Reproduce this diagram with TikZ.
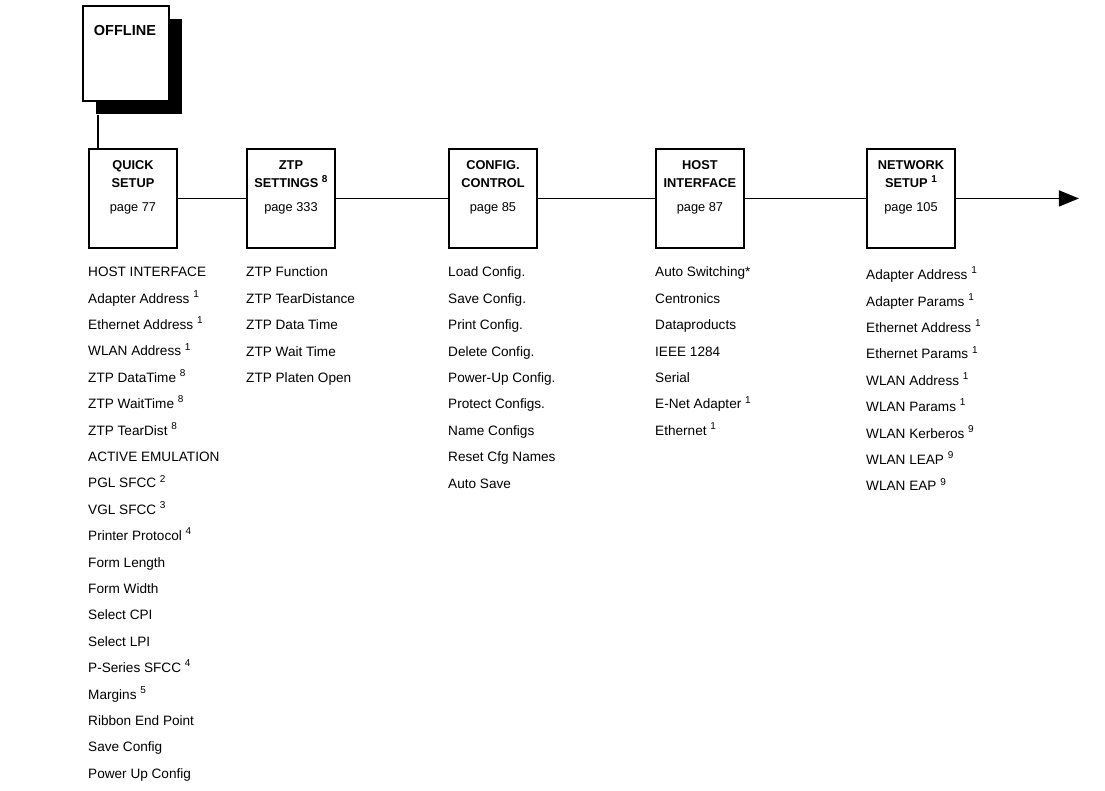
\documentclass[tikz,border=0pt]{standalone}
\usepackage{fontspec}
\setmainfont{Liberation Sans}
\usetikzlibrary{positioning,calc,arrows.meta,shadows}
\tikzset{MENU/.style={rectangle,draw,line width=1.9pt,minimum width=88pt,minimum height=99pt,anchor=north west,fill=white}}
\tikzset{TITLE/.style={align=center,anchor=north,inner sep=0pt,font=\fontsize{12.8}{18.5}\selectfont}}
\tikzset{ITEMS/.style={align=left,anchor=north west,inner sep=0pt,font=\fontsize{13.6}{26.4}\selectfont}}
\tikzset{LINK/.style={line width=1.6pt}}
\tikzset{ARROW/.style={line width=1.6pt,-{Triangle[length=20pt,width=16pt]}}}
\newcommand{\fnote}[1]{ \raisebox{0.42em}{\fontsize{10}{10}\selectfont #1}}

\begin{document}
\begin{tikzpicture}[x=1pt,y=-1pt]
\useasboundingbox (0,0) rectangle (1105,790);

% top of the menu
\node[MENU, minimum width=86pt, minimum height=95pt, drop shadow={shadow xshift=13pt,shadow yshift=-13pt,fill=black,opacity=1}] (n_offline) at (82,5) {};
\node[TITLE, font=\fontsize{14.5}{16}\selectfont] (t_offline) at ($(n_offline.north)+(-1,20)$) {\textbf{OFFLINE}};

% the row of submenus
\node[MENU] (n_quick) at (88,148) {};
\node[MENU] (n_ztp) at (246,148) {};
\node[MENU] (n_config) at (448,148) {};
\node[MENU] (n_host) at (655,148) {};
\node[MENU] (n_network) at (866,148) {};

\node[TITLE] (t_quick) at ($(n_quick.north)+(0,12)$) {\textbf{QUICK}\\\textbf{SETUP}\\[5pt]page 77};
\node[TITLE] (t_ztp) at ($(n_ztp.north)+(0,12)$) {\textbf{ZTP}\\\textbf{SETTINGS\fnote{8}}\\[5pt]page 333};
\node[TITLE] (t_config) at ($(n_config.north)+(0,12)$) {\textbf{CONFIG.}\\\textbf{CONTROL}\\[5pt]page 85};
\node[TITLE] (t_host) at ($(n_host.north)+(0,12)$) {\textbf{HOST}\\\textbf{INTERFACE}\\[5pt]page 87};
\node[TITLE] (t_network) at ($(n_network.north)+(0,12)$) {\textbf{NETWORK}\\\textbf{SETUP\fnote{1}}\\[5pt]page 105};

\coordinate (c_drop) at ($(n_offline.south west)+(16,13)$);
\draw[LINK] (c_drop) -- (c_drop|-n_quick.north);
\draw[LINK] (n_quick.east) -- (n_ztp.west);
\draw[LINK] (n_ztp.east) -- (n_config.west);
\draw[LINK] (n_config.east) -- (n_host.west);
\draw[LINK] (n_host.east) -- (n_network.west);
\coordinate (c_out) at ($(n_network.east)+(123,0)$);
\draw[ARROW] (n_network.east) -- (c_out);

% menu items under each box
\node[ITEMS] (l_quick) at ($(n_quick.south west)+(0,18)$) {HOST INTERFACE\\Adapter Address\fnote{1}\\Ethernet Address\fnote{1}\\WLAN Address\fnote{1}\\ZTP DataTime\fnote{8}\\ZTP WaitTime\fnote{8}\\ZTP TearDist\fnote{8}\\ACTIVE EMULATION\\PGL SFCC\fnote{2}\\VGL SFCC\fnote{3}\\Printer Protocol\fnote{4}\\Form Length\\Form Width\\Select CPI\\Select LPI\\P-Series SFCC\fnote{4}\\Margins\fnote{5}\\Ribbon End Point\\Save Config\\Power Up Config};
\node[ITEMS] (l_ztp) at ($(n_ztp.south west)+(0,18)$) {ZTP Function\\ZTP TearDistance\\ZTP Data Time\\ZTP Wait Time\\ZTP Platen Open};
\node[ITEMS] (l_config) at ($(n_config.south west)+(0,18)$) {Load Config.\\Save Config.\\Print Config.\\Delete Config.\\Power-Up Config.\\Protect Configs.\\Name Configs\\Reset Cfg Names\\Auto Save};
\node[ITEMS] (l_host) at ($(n_host.south west)+(0,18)$) {Auto Switching*\\Centronics\\Dataproducts\\IEEE 1284\\Serial\\E-Net Adapter\fnote{1}\\Ethernet\fnote{1}};
\node[ITEMS] (l_network) at ($(n_network.south west)+(0,18)$) {Adapter Address\fnote{1}\\Adapter Params\fnote{1}\\Ethernet Address\fnote{1}\\Ethernet Params\fnote{1}\\WLAN Address\fnote{1}\\WLAN Params\fnote{1}\\WLAN Kerberos\fnote{9}\\WLAN LEAP\fnote{9}\\WLAN EAP\fnote{9}};

\end{tikzpicture}
\end{document}
